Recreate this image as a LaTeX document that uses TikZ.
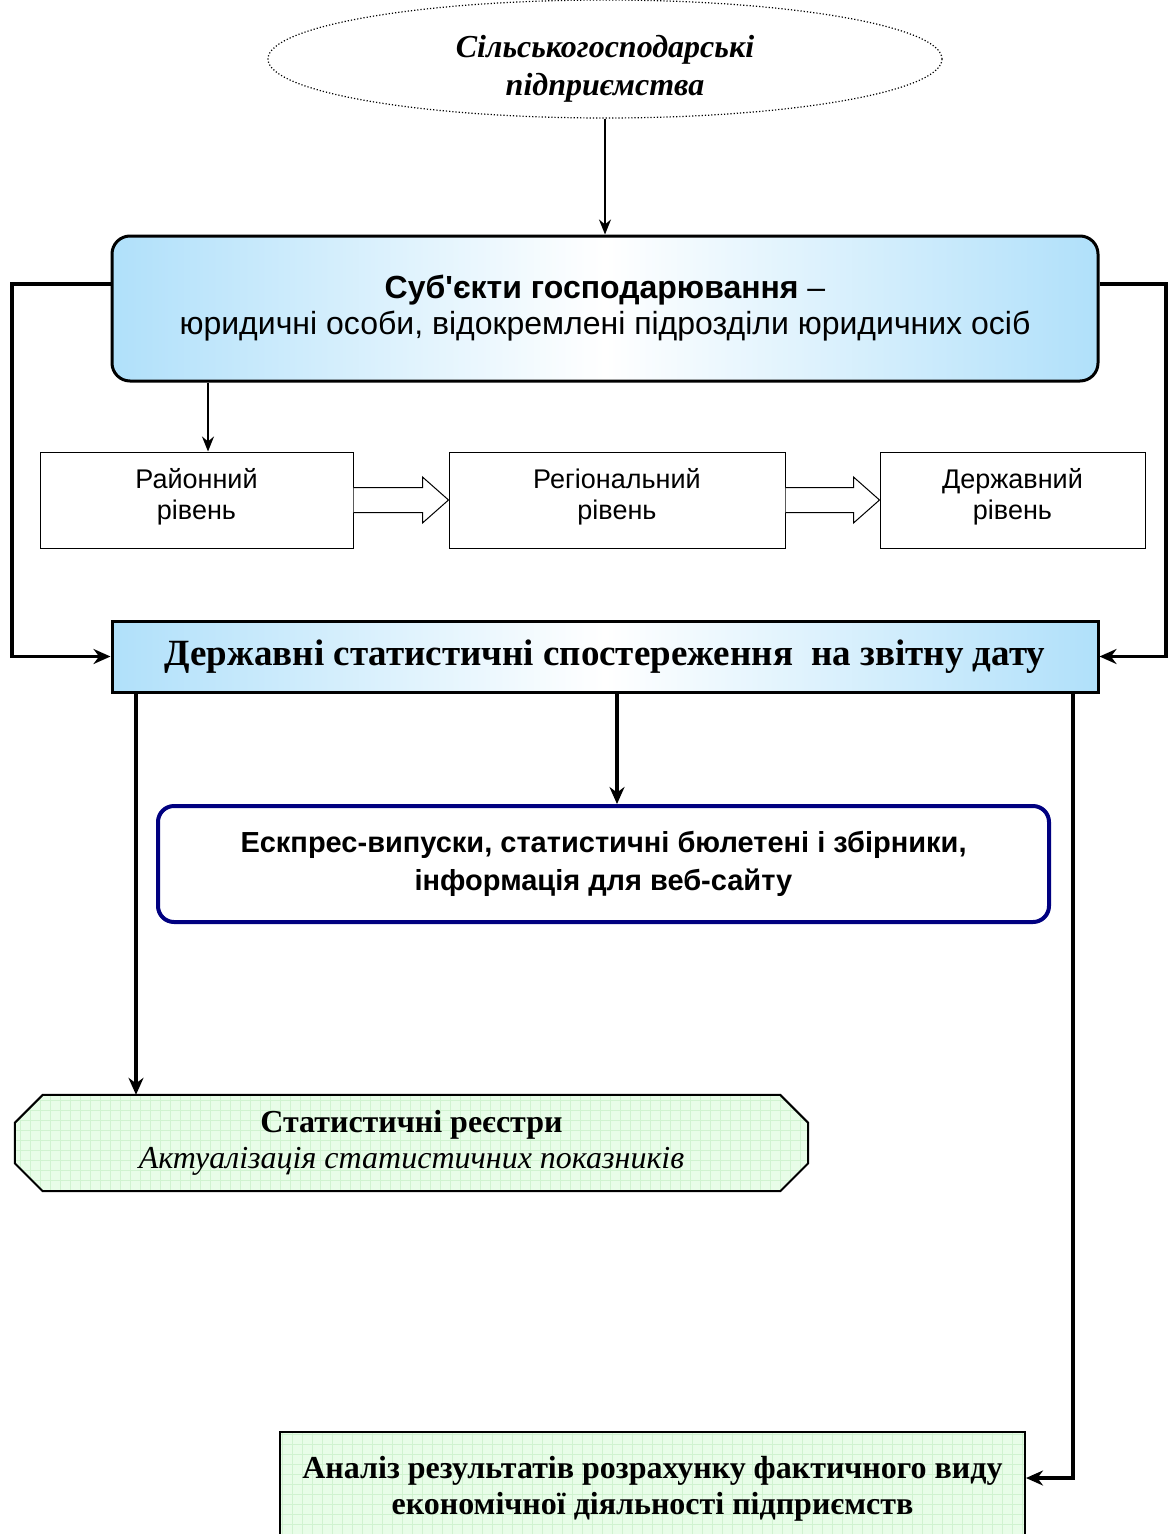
\documentclass[tikz,border=0pt]{standalone}
\usepackage{fontspec}
\setmainfont{Liberation Serif}
\setsansfont{Liberation Sans}
\usetikzlibrary{shapes.geometric,arrows.meta,calc,backgrounds}
\definecolor{skyfill}{RGB}{176,224,250}
\definecolor{mintfill}{RGB}{232,253,232}
\definecolor{mintgrid}{RGB}{208,243,208}
\definecolor{navyline}{RGB}{0,0,128}
\begin{document}
\begin{tikzpicture}[x=1pt,y=-1pt,
    oval/.style={ellipse, draw, dotted, line width=1.2pt, minimum width=674pt, minimum height=118pt},
    ovaltext/.style={align=center, font=\fontsize{32}{38}\selectfont\bfseries\itshape},
    bluebox/.style={draw, line width=3pt, left color=skyfill, right color=skyfill, middle color=white, align=center},
    levelbox/.style={draw, line width=1pt, minimum height=96pt, text depth=12pt, align=center, font=\sffamily\fontsize{27}{31}\selectfont},
    navybox/.style={draw=navyline, line width=4pt, rounded corners=16pt, minimum width=891pt, minimum height=116pt, align=center, font=\sffamily\bfseries\fontsize{29}{38}\selectfont},
    greenbox/.style={draw, line width=2pt, fill=mintfill, path picture={\draw[mintgrid, line width=0.6pt, step=10pt] (path picture bounding box.south west) grid (path picture bounding box.north east);}},
    conn/.style={line width=3.5pt, -{Stealth[length=17pt, width=15pt]}},
    thinarrow/.style={line width=1.5pt, -{Stealth[length=15pt, width=12pt]}},
    blockarrow/.style={draw, line width=1pt, fill=white}]
    \useasboundingbox (0,0) rectangle (1170,1534);

    % Source and reporting units
    \node[oval] (farms) at (605,59) {};
    \node[ovaltext] (farmstext) at (605,69) {Сільськогосподарські\\підприємства};
    \node[bluebox, rounded corners=18pt, minimum width=986pt, minimum height=145pt, font=\sffamily\fontsize{32}{36}\selectfont] (subj) at (605,308.5)
        {\textbf{Суб\textquotesingle єкти господарювання} –\\юридичні особи, відокремлені підрозділи юридичних осіб};

    % Levels
    \node[levelbox, minimum width=313pt] (rayon) at (196.5,500) {Районний\\рівень};
    \node[levelbox, minimum width=336pt] (region) at (617,500) {Регіональний\\рівень};
    \node[levelbox, minimum width=265pt] (state) at (1012.5,500) {Державний\\рівень};

    % Observations and outputs
    \node[bluebox, minimum width=986pt, minimum height=71pt, font=\fontsize{37}{40}\selectfont\bfseries] (obs) at (605,656.5)
        {Державні статистичні спостереження~ на звітну дату};
    \node[navybox] (expr) at (603.5,864) {Ескпрес-випуски, статистичні бюлетені і збірники,\\інформація для веб-сайту};
    \node[minimum width=793pt, minimum height=96pt, align=center, font=\fontsize{32}{36}\selectfont] (reg) at (411.5,1143)
        {\textbf{Статистичні реєстри}\\\textit{Актуалізація статистичних показників}};
    \node[greenbox, minimum width=745pt, minimum height=113pt, align=center, font=\fontsize{32}{36}\selectfont\bfseries] (anal) at (652.5,1488.5)
        {Аналіз результатів розрахунку фактичного виду\\економічної діяльності підприємств};

    % Octagon behind the registers
    \begin{scope}[on background layer]
        \draw[greenbox] ([xshift=28pt]reg.north west) -- ([xshift=-28pt]reg.north east) -- ([yshift=-28pt]reg.north east)
            -- ([yshift=28pt]reg.south east) -- ([xshift=-28pt]reg.south east) -- ([xshift=28pt]reg.south west)
            -- ([yshift=28pt]reg.south west) -- ([yshift=-28pt]reg.north west) -- cycle;
    \end{scope}

    % Turning points
    \coordinate (lturn) at (12,284);
    \coordinate (rturn) at (1166,284);
    \coordinate (rayonx) at (208,0);
    \coordinate (exprx) at (617,0);
    \coordinate (regx) at (136,0);
    \coordinate (analturn) at (1073,1478);

    % Connectors
    \draw[thinarrow] (farms.south) -- (subj.north);
    \draw[thinarrow] (subj.south -| rayonx) -- (rayon.north -| rayonx);
    \draw[conn] (subj.west |- lturn) -- (lturn) |- (obs.west);
    \draw[conn] (subj.east |- rturn) -- (rturn) |- (obs.east);
    \draw[conn] (obs.south -| exprx) -- (expr.north -| exprx);
    \draw[conn] (obs.south -| regx) -- (reg.north -| regx);
    \draw[conn] (obs.south -| analturn) -- (analturn) -- (anal.east |- analturn);

    % Block arrows between levels
    \foreach \a/\b in {rayon/region, region/state}
        \draw[blockarrow] ($(\a.east)+(0,-12.5)$) -- ($(\b.west)+(-26,-12.5)$) -- ($(\b.west)+(-26,-23)$) -- (\b.west)
            -- ($(\b.west)+(-26,23)$) -- ($(\b.west)+(-26,12.5)$) -- ($(\a.east)+(0,12.5)$);
\end{tikzpicture}
\end{document}
